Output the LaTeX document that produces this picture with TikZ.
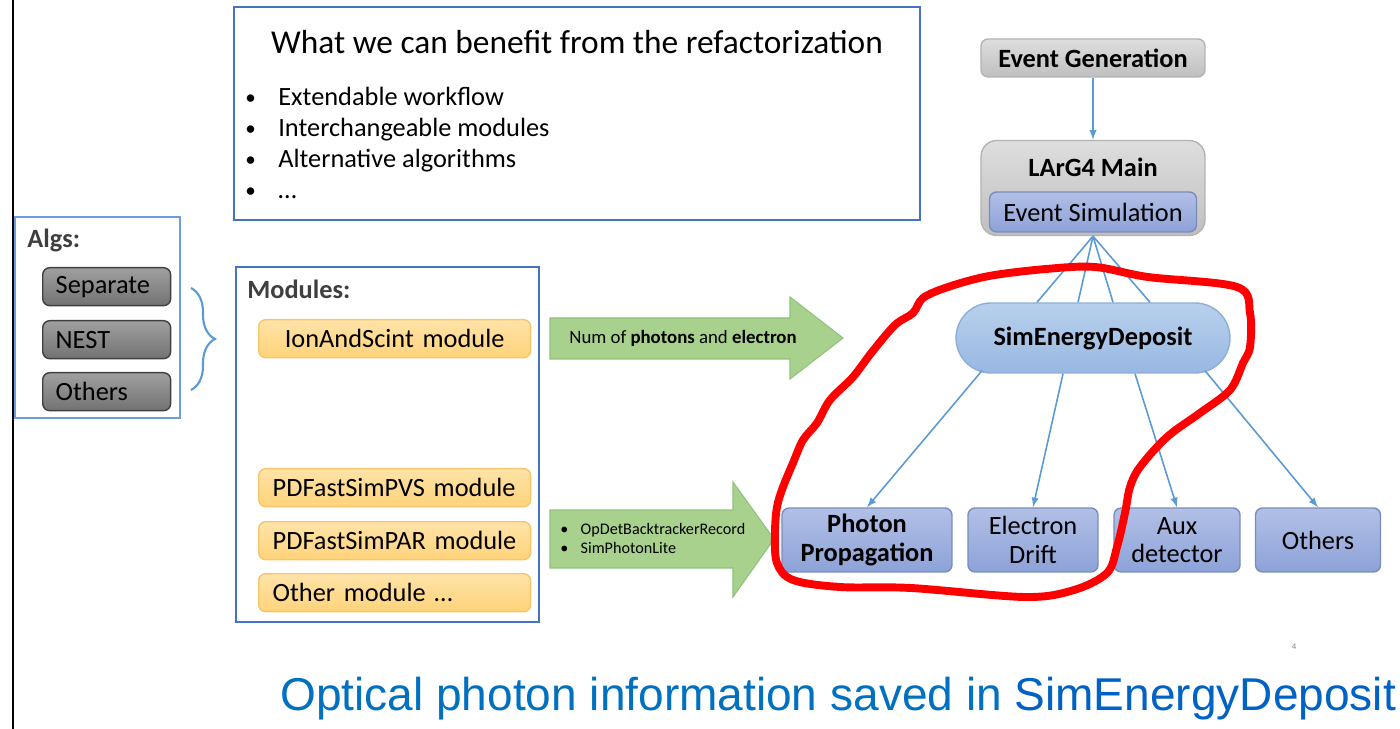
\documentclass[tikz,border=0pt]{standalone}
\usepackage{fontspec}
\setmainfont{Carlito}
\newfontfamily\arialfont{Liberation Sans}
\usetikzlibrary{shapes,arrows,positioning,calc}
\usetikzlibrary{decorations.pathreplacing}

\definecolor{frameblue}{HTML}{4472C4}
\definecolor{algframe}{HTML}{6F9BE0}
\definecolor{linkblue}{HTML}{5B9BD5}
\definecolor{algtop}{HTML}{A0A0A0}
\definecolor{algbot}{HTML}{727272}
\definecolor{algedge}{HTML}{404040}
\definecolor{modtop}{HTML}{FFE3A8}
\definecolor{modbot}{HTML}{FFD37A}
\definecolor{modedge}{HTML}{F7C56A}
\definecolor{arrowgreen}{HTML}{A9D18E}
\definecolor{arrowedge}{HTML}{8FC27A}
\definecolor{greytop}{HTML}{DEDEDE}
\definecolor{greybot}{HTML}{BFBFBF}
\definecolor{greyedge}{HTML}{B3B3B3}
\definecolor{bluetop}{HTML}{B2C0E6}
\definecolor{bluebot}{HTML}{8DA2D8}
\definecolor{blueedge}{HTML}{7A8CBA}
\definecolor{sedtop}{HTML}{B8D0EC}
\definecolor{sedbot}{HTML}{98B8E2}
\definecolor{sededge}{HTML}{8DAEDA}
\definecolor{capblue}{HTML}{0070C0}
\definecolor{capblue2}{HTML}{0062C4}
\definecolor{labelgrey}{HTML}{3F3F3F}

\newcommand\bodyfont{\fontsize{15}{16}\selectfont}
\newcommand\bodybold{\fontsize{15}{16}\selectfont\bfseries}
\newcommand\titlefont{\fontsize{19}{22}\selectfont}
\newcommand\arrowfont{\fontsize{10.7}{12}\selectfont}
\newcommand\listfont{\fontsize{9.2}{11}\selectfont}
\newcommand\captionfont{\arialfont\fontsize{26.2}{30}\selectfont}

\begin{document}
\begin{tikzpicture}[x=0.02cm,y=-0.02cm,
	frame/.style={draw=frameblue,line width=0.8pt},
	link/.style={draw=linkblue,line width=0.9pt},
	algbox/.style={draw=algedge,line width=0.8pt,rounded corners=4pt,top color=algtop,bottom color=algbot,
		anchor=north west,minimum height=0.76cm,text width=2.04cm,inner xsep=0.26cm,inner ysep=0pt,align=left,font=\bodyfont},
	modbox/.style={draw=modedge,line width=0.8pt,rounded corners=4pt,top color=modtop,bottom color=modbot,
		anchor=north west,minimum height=0.76cm,text width=4.88cm,inner xsep=0.28cm,inner ysep=0pt,align=left,font=\bodyfont},
	greybox/.style={draw=greyedge,line width=0.8pt,rounded corners=4pt,top color=greytop,bottom color=greybot,inner sep=0pt},
	bluebox/.style={draw=blueedge,line width=0.8pt,rounded corners=4pt,top color=bluetop,bottom color=bluebot,
		inner sep=0pt,align=center,font=\bodyfont},
	sedbox/.style={draw=sededge,line width=0.8pt,rounded corners=0.7cm,top color=sedtop,bottom color=sedbot,
		minimum width=5.48cm,minimum height=1.4cm,inner sep=0pt,font=\bodybold},
	fatarrow/.style={fill=arrowgreen,draw=arrowedge,line width=0.6pt}
	]
	\fill[white] (0,0) rectangle (1400,729);
	\useasboundingbox (0,0) rectangle (1400,729);
	\draw[line width=1.3pt] (13,0) -- (13,729);

	% benefits of the refactorization
	\draw[frame] (234,7) rectangle (920,220);
	\node[font=\titlefont] (title) at (577,42) {What we can benefit from the refactorization};
	\foreach \txt [count=\i] in {Extendable workflow,Interchangeable modules,Alternative algorithms,…}{
		\node[anchor=base west,inner sep=0pt,font=\fontsize{12}{14}\selectfont] (dot\i) at (245,74+31*\i) {\textbullet};
		\node[anchor=base west,inner sep=0pt,font=\bodyfont] (item\i) at (278,75+31*\i) {\txt};
	}

	% algorithms
	\draw[frame,draw=algframe] (15,217) rectangle (180,418);
	\node[anchor=west,inner sep=0pt,font=\bodybold,text=labelgrey] (algs) at (27,240) {Algs:};
	\node[algbox] (sep) at (42,267) {Separate};
	\node[algbox] (nest) at (42,320) {NEST};
	\node[algbox] (algoth) at (42,372) {Others};
	\draw[link,line width=1.2pt,decorate,decoration={brace,amplitude=0.48cm}] (191,288) -- (191,390);

	% modules
	\draw[frame] (236,267) rectangle (539,622);
	\node[anchor=west,inner sep=0pt,font=\bodybold,text=labelgrey] (mods) at (247,289) {Modules:};
	\node[modbox,align=center] (ion) at (258,319) {IonAndScint module};
	\node[modbox] (pvs) at (258,468) {PDFastSimPVS module};
	\node[modbox] (par) at (258,521) {PDFastSimPAR module};
	\node[modbox] (othmod) at (258,573) {Other module …};

	% green arrows
	\draw[fatarrow] (550,318) -- (790,318) -- (790,297) -- (843,338) -- (790,379) -- (790,359) -- (550,359) -- cycle;
	\node[anchor=west,inner sep=0pt,font=\arrowfont] (numtxt) at (569,338) {Num of \textbf{photons} and \textbf{electron}};
	\draw[fatarrow] (550,510) -- (733,510) -- (733,482) -- (774,539) -- (733,597) -- (733,568) -- (550,568) -- cycle;
	\node[anchor=west,inner sep=0pt,font=\listfont] (photlist) at (560,540)
		{\begin{tabular}{@{}l@{\hspace{7pt}}l@{}}\textbullet & OpDetBacktrackerRecord\\ \textbullet & SimPhotonLite\end{tabular}};

	% simulation chain
	\node[greybox,minimum width=4.48cm,minimum height=0.76cm,font=\bodybold] (evgen) at (1093,58) {Event Generation};
	\node[greybox,minimum width=4.48cm,minimum height=1.9cm,rounded corners=9pt] (larg4) at (1093,188) {};
	\node[inner sep=0pt,font=\bodybold] (maintxt) at (1093,167) {LArG4 Main};
	\node[bluebox,minimum width=4.14cm,minimum height=0.8cm] (evsim) at (1093,212) {Event Simulation};
	\node[sedbox] (sed) at (1093,338) {SimEnergyDeposit};
	\node[bluebox,minimum width=3.4cm,minimum height=1.28cm,font=\bodybold] (photprop) at (867,540) {Photon\\Propagation};
	\node[bluebox,minimum width=2.6cm,minimum height=1.28cm] (edrift) at (1033,540) {Electron\\Drift};
	\node[bluebox,minimum width=2.52cm,minimum height=1.28cm] (auxdet) at (1177,540) {Aux\\detector};
	\node[bluebox,minimum width=2.5cm,minimum height=1.28cm] (othdet) at (1318,540) {Others};

	\draw[link,-latex] (evgen) -- (larg4);
	\foreach \dx in {-56,-15,20,57}
		\draw[link] (larg4.south) -- ($(sed.north)+(\dx,0)$);
	\draw[link,-latex] ($(sed.south)+(-111,-3)$) -- (photprop.north);
	\draw[link,-latex] ($(sed.south)+(-30,0)$) -- (edrift.north);
	\draw[link,-latex] ($(sed.south)+(42,0)$) -- (auxdet.north);
	\draw[link,-latex] ($(sed.south)+(112,-3)$) -- (othdet.north);

	% hand drawn mark
	\draw[red,line width=4.5pt,line join=round] plot[smooth cycle,tension=0.55] coordinates {
		(1095,267) (1148,277) (1237,287) (1250,313) (1250,347) (1243,363) (1230,390) (1200,413)
		(1167,437) (1140,467) (1130,487) (1125,513) (1117,547) (1107,573) (1074,590) (1025,597)
		(911,588) (840,587) (793,580) (777,563) (775,533) (777,507) (783,487) (793,463) (803,440)
		(817,423) (830,400) (853,377) (872,352) (895,325) (913,313) (923,298) (948,287) (989,276) (1046,269)};

	\node[font=\fontsize{5}{6}\selectfont,text=gray,inner sep=0pt] (pgnum) at (1294,647) {4};
	\node[anchor=base west,inner sep=0pt,font=\captionfont] (caption) at (280,710)
		{\textcolor{capblue}{Optical photon information saved in} \textcolor{capblue2}{SimEnergyDeposit}};
\end{tikzpicture}
\end{document}
